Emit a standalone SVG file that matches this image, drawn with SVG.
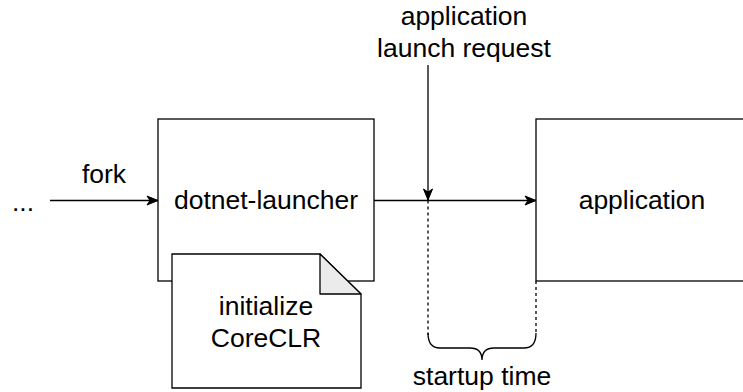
<svg xmlns="http://www.w3.org/2000/svg" width="743" height="392" viewBox="0 0 743 392">
<style>
.box{fill:#fff;stroke:#000;stroke-width:1.3}
.fold{fill:#ebebeb;stroke:#000;stroke-width:1.3;stroke-linejoin:round}
.ln{fill:none;stroke:#000;stroke-width:1.3}
.dash{fill:none;stroke:#000;stroke-width:1.3;stroke-dasharray:3 3}
text{font-family:"Liberation Sans",Arial,sans-serif;font-size:26.5px;fill:#000;text-anchor:middle}
</style>
<defs>
<marker id="arr" markerUnits="userSpaceOnUse" markerWidth="12" markerHeight="10" refX="11" refY="4.5" orient="auto" overflow="visible">
<path d="M0,0 L11,4.5 L0,9 L3,4.5 Z" fill="#000" stroke="#000" stroke-width="1"/>
</marker>
</defs>
<rect width="743" height="392" fill="#fff"/>
<g id="connectors">
<path class="ln" d="M50,200.5 H158" marker-end="url(#arr)"/>
<path class="ln" d="M374,200.5 H536" marker-end="url(#arr)"/>
<path class="ln" d="M428,65 V200" marker-end="url(#arr)"/>
<path class="dash" d="M428,200.5 V335"/>
<path class="dash" d="M536,281 V335"/>
<path class="ln" d="M428,333 Q428,348 440,348 H470 Q482,348 482,360 Q482,348 494,348 H524 Q536,348 536,333"/>
</g>
<g id="ellipsis"><text x="23" y="211">...</text></g>
<g id="fork-label"><text x="104" y="183">fork</text></g>
<g id="request-label"><text x="464" y="25">application</text><text x="464" y="57">launch request</text></g>
<g id="startup-label"><text x="482" y="385">startup time</text></g>
<g id="dotnet-launcher">
<rect class="box" x="158" y="119" width="216" height="162"/>
<text x="266" y="209">dotnet-launcher</text>
</g>
<g id="application">
<rect class="box" x="536" y="119" width="220" height="162"/>
<text x="642" y="209">application</text>
</g>
<g id="note">
<path class="box" d="M172,254 H320 L361,294 V388 H172 Z"/>
<path class="fold" d="M320,254 V294 H361 Z"/>
<text x="266" y="315">initialize</text>
<text x="266" y="347">CoreCLR</text>
</g>
</svg>
